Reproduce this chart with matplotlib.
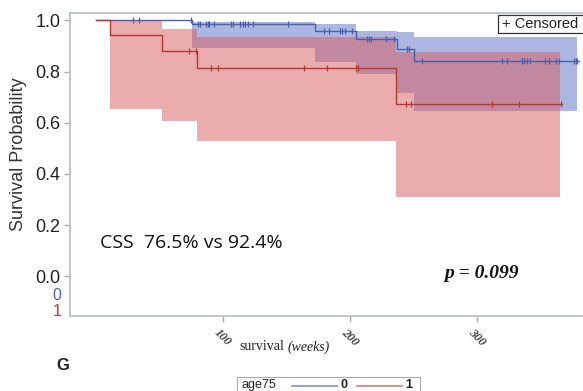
import numpy as np
import matplotlib
matplotlib.use("Agg")
import matplotlib.pyplot as plt
from matplotlib.lines import Line2D
from matplotlib.patches import Rectangle

# step curves (weeks, survival after the step)
blue_t = [0, 75.4, 172.7, 205.0, 237.0, 250.2]
blue_s = [1.0, 0.985, 0.96, 0.928, 0.887, 0.841]
blue_end = 380.4
red_t = [0, 11.3, 51.8, 79.6, 236.2]
red_s = [1.0, 0.942, 0.881, 0.812, 0.675]
red_end = 366.9

# confidence bands
blue_ci_t = [75.4, 172.7, 205.0, 237.0, 250.2]
blue_ci_hi = [0.995, 0.985, 0.96, 0.955, 0.933]
blue_ci_lo = [0.891, 0.838, 0.79, 0.717, 0.646]
blue_ci_end = 379.1
red_ci_t = [11.3, 51.8, 79.6, 236.2]
red_ci_hi = [1.0, 0.966, 0.933, 0.877]
red_ci_lo = [0.653, 0.605, 0.527, 0.311]
red_ci_end = 365.5

# censored times
blue_cens = [29, 33.8, 75, 80.2, 82, 86.7, 88.1, 89.4, 93.3, 106, 107.9, 113.2, 115.9,
             117.1, 119.8, 123.8, 151.6, 179.4, 183.8, 192.5, 193.9, 196.5, 201.8,
             213.7, 215, 216.3, 228.3, 234.9, 244.7, 246.3, 256.8, 319.5, 323.5,
             335.4, 336.7, 339.4, 342, 353.9, 356.6, 361.9, 364.5, 376.4, 377.8, 379.1]
red_cens = [73.5, 78.8, 90.7, 96, 163.5, 182, 205, 206.3, 244.1, 248.1, 311.6, 332.8, 365.9]

yticks = [0.0, 0.2, 0.4, 0.6, 0.8, 1.0]
xticks = [100, 200, 300]

BLUE = "#4a5fb0"
RED = "#b5392f"
narrow = ["Liberation Sans", "DejaVu Sans"]
serif = ["Liberation Serif", "DejaVu Serif"]

W, H = 583, 391
fig = plt.figure(figsize=(W / 100, H / 100), dpi=100)
ax = fig.add_axes([70 / W, 1 - 316 / H, (590 - 70) / W, (316 - 13) / H])


def step_at(t, s, x):
    idx = np.searchsorted(t, x, side="right") - 1
    return np.array(s)[idx]


def draw_band(t, lo, hi, end, color):
    xs = np.append(t, end)
    ax.fill_between(xs, np.append(lo, lo[-1]), np.append(hi, hi[-1]),
                    step="post", color=color, alpha=0.5, lw=0)


def draw_curve(t, s, end, cens, color):
    xs = np.append(t, end)
    ax.step(xs, np.append(s, s[-1]), where="post", color=color, lw=1)
    ax.plot(cens, step_at(t, s, cens), ls="none", marker="|", ms=5, mew=0.9, color=color)


draw_band(blue_ci_t, blue_ci_lo, blue_ci_hi, blue_ci_end, "#5a70c4")
draw_band(red_ci_t, red_ci_lo, red_ci_hi, red_ci_end, "#d85a5e")
draw_curve(blue_t, blue_s, blue_end, blue_cens, BLUE)
draw_curve(red_t, red_s, red_end, red_cens, RED)

ax.set_xlim(-20.4, 389)
ax.set_ylim(-0.155, 1.0285)
ax.set_yticks(yticks)
ax.set_yticklabels([f"{v:.1f}" for v in yticks], family=narrow, fontsize=13, color="#222222")
ax.set_xticks(xticks)
ax.set_xticklabels([str(v) for v in xticks], family=serif, fontsize=9, style="italic",
                   weight="bold", rotation=-45, ha="center", va="top", color="#444444")
ax.tick_params(axis="both", color="#aaaaaa", length=4, width=1)
ax.tick_params(axis="y", pad=3)
for sp in ax.spines.values():
    sp.set_color("#b8bcc4")
    sp.set_linewidth(1.2)

fig.text(19 / W, 1 - 154 / H, "Survival Probability", rotation=90, ha="center", va="center",
         family=narrow, fontsize=13, color="#333333")

# strata labels under the y axis
fig.text(57 / W, 1 - 295 / H, "0", color="#4a64b0", ha="center", va="center", family=narrow, fontsize=11.5)
fig.text(57 / W, 1 - 311 / H, "1", color="#d03030", ha="center", va="center", family=narrow, fontsize=11.5)

fig.text(100 / W, 1 - 243 / H, "CSS  76.5% vs 92.4%", family=["Open Sans", "DejaVu Sans"],
         fontsize=14, ha="left", va="center", color="#111111")
fig.text(482 / W, 1 - 274 / H, "p = 0.099", family=serif, fontsize=14, style="italic",
         weight="bold", ha="center", va="center", color="#111111")

fig.text(239 / W, 1 - 347 / H, "survival", family=serif, fontsize=10,
         ha="left", va="center", color="#222222")
fig.text(288 / W, 1 - 347 / H, "(weeks)", family=serif, fontsize=10,
         style="italic", ha="left", va="center", color="#222222")

# censored box, running past the right edge as in the source
fig.add_artist(Rectangle((498 / W, 1 - 33 / H), 100 / W, 18 / H, transform=fig.transFigure,
                         fc="white", ec="#333333", lw=0.9))
fig.text(502 / W, 1 - 24.5 / H, "+ Censored", family=narrow, fontsize=10.5,
         ha="left", va="center", color="#222222")

fig.text(63 / W, 1 - 366 / H, "G", family=narrow, fontsize=12, weight="bold",
         ha="center", va="center", color="#222222")

# legend strip
fig.add_artist(Rectangle((237 / W, 0), (420 - 237) / W, (391 - 377) / H,
                         transform=fig.transFigure, fill=False, ec="#aaaaaa", lw=0.8))
fig.text(242 / W, 1 - 385 / H, "age75", family=narrow, fontsize=9, ha="left", va="center",
         color="#222222")
fig.add_artist(Line2D([292 / W, 337 / W], [1 - 386 / H] * 2, transform=fig.transFigure,
                      color="#8090d0", lw=1.2))
fig.text(344 / W, 1 - 385 / H, "0", family=narrow, fontsize=9, weight="bold", ha="center",
         va="center", color="#222222")
fig.add_artist(Line2D([357 / W, 402 / W], [1 - 386 / H] * 2, transform=fig.transFigure,
                      color="#d08070", lw=1.2))
fig.text(409 / W, 1 - 385 / H, "1", family=narrow, fontsize=9, weight="bold", ha="center",
         va="center", color="#222222")

fig.savefig("out.png", dpi=100)
